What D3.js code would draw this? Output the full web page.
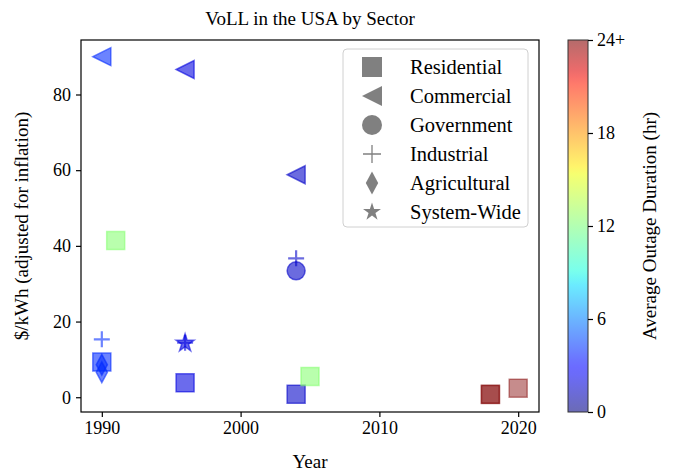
<!DOCTYPE html>
<html>
<head>
<meta charset="utf-8">
<script src="https://cdn.jsdelivr.net/npm/d3@7"></script>
<style>
  html, body { margin: 0; padding: 0; background: #fff; }
  svg text { font-family: "Liberation Serif", "DejaVu Serif", serif; fill: #000; }
</style>
</head>
<body>
<svg id="chart" width="677" height="472"></svg>
<script>
// Value of Lost Load by sector: [year, $/kWh, average outage duration (hr)]
const residential  = [[1990, 9.3, 4], [1991, 41.4, 12.3], [1996, 3.8, 2], [2004, 0.8, 1.5], [2005, 5.5, 12.3], [2018, 0.8, 24], [2018, 0.7, 24], [2020, 2.4, 24]];
const commercial   = [[1990, 90.0, 4], [1996, 86.6, 2], [2004, 58.8, 1.5]];
const government   = [[2004, 33.4, 1.5]];
const industrial   = [[1990, 15.3, 4], [1996, 14.4, 2], [2004, 36.7, 1.5]];
const agricultural = [[1990, 8.6, 4], [1990, 6.6, 4]];
const systemWide   = [[1996, 14.3, 2]];

const sectorNames = ["Residential", "Commercial", "Government", "Industrial", "Agricultural", "System-Wide"];
const sectorMarkers = ["square", "triangleLeft", "circle", "plus", "diamond", "star"];
const sectorData = [residential, commercial, government, industrial, agricultural, systemWide];

const xTicks = [1990, 2000, 2010, 2020];
const yTicks = [0, 20, 40, 60, 80];
const cbTicks = [0, 6, 12, 18, 24];
const cbTickLabels = ["0", "6", "12", "18", "24+"];

const svg = d3.select("#chart");
const plot = { left: 81, right: 539, top: 40, bottom: 412 };

const x = d3.scaleLinear().domain([1988.5, 2021.5]).range([plot.left, plot.right]);
const y = d3.scaleLinear().domain([-3.9, 94.4]).range([plot.bottom, plot.top]);

// jet colour map
function jet(t) {
  t = Math.max(0, Math.min(1, t));
  const seg = (pts) => {
    for (let i = 0; i < pts.length - 1; i++) {
      const [a, va] = pts[i], [b, vb] = pts[i + 1];
      if (t >= a && t <= b) return va + (vb - va) * (t - a) / (b - a);
    }
    return pts[pts.length - 1][1];
  };
  const r = seg([[0, 0], [0.35, 0], [0.66, 1], [0.89, 1], [1, 0.5]]);
  const g = seg([[0, 0], [0.125, 0], [0.375, 1], [0.64, 1], [0.91, 0], [1, 0]]);
  const b = seg([[0, 0.5], [0.11, 1], [0.34, 1], [0.65, 0], [1, 0]]);
  return d3.rgb(r * 255, g * 255, b * 255).formatHex();
}
const color = d3.scaleSequential(jet).domain([0, 24]).clamp(true);
const alpha = 0.58;

// marker paths centred on the origin, r = half size
function markerPath(kind, r) {
  switch (kind) {
    case "square": return `M${-r},${-r}H${r}V${r}H${-r}Z`;
    case "triangleLeft": return `M${-r},0L${r},${-r}L${r},${r}Z`;
    case "circle": return `M${r},0A${r},${r} 0 1,1 ${-r},0A${r},${r} 0 1,1 ${r},0Z`;
    case "plus": return `M${-r},0H${r}M0,${-r}V${r}`;
    case "diamond": { const w = r * 0.62, h = r * 1.15; return `M0,${-h}L${w},0L0,${h}L${-w},0Z`; }
    case "star": {
      const pts = [];
      for (let i = 0; i < 10; i++) {
        const rr = i % 2 === 0 ? r * 1.05 : r * 1.05 * 0.381966;
        const a = -Math.PI / 2 + i * Math.PI / 5;
        pts.push([rr * Math.cos(a), rr * Math.sin(a)]);
      }
      return "M" + pts.map(p => p.join(",")).join("L") + "Z";
    }
  }
}

// Scatter marks
const r = 9;
sectorData.forEach((data, i) => {
  const kind = sectorMarkers[i];
  svg.append("g").selectAll("path").data(data).join("path")
    .attr("transform", d => `translate(${x(d[0])},${y(d[1])})`)
    .attr("d", markerPath(kind, kind === "plus" ? 8 : kind === "star" ? 9 : r))
    .attr("fill", kind === "plus" ? "none" : d => color(d[2]))
    .attr("fill-opacity", d => d[2] >= 24 ? 0.45 : alpha)
    .attr("stroke", d => color(d[2]))
    .attr("stroke-opacity", d => d[2] >= 24 ? 0.45 : alpha)
    .attr("stroke-width", kind === "plus" ? 2.2 : 1.5);
});

// Axes
const fontSize = 18;
const xAxis = svg.append("g").attr("transform", `translate(0,${plot.bottom})`)
  .call(d3.axisBottom(x).tickValues(xTicks).tickFormat(d3.format("d")).tickSize(5).tickPadding(4));
const yAxis = svg.append("g").attr("transform", `translate(${plot.left},0)`)
  .call(d3.axisLeft(y).tickValues(yTicks).tickSize(5).tickPadding(5));
[xAxis, yAxis].forEach(a => {
  a.select(".domain").remove();
  a.selectAll("text").style("font-size", fontSize + "px").style("font-family", "'Liberation Serif', serif");
  a.selectAll("line").attr("stroke", "#000").attr("stroke-width", 1.2);
});

// Plot frame
svg.append("rect")
  .attr("x", plot.left).attr("y", plot.top)
  .attr("width", plot.right - plot.left).attr("height", plot.bottom - plot.top)
  .attr("fill", "none").attr("stroke", "#000").attr("stroke-width", 1.2);

// Title and axis labels
svg.append("text").attr("x", (plot.left + plot.right) / 2).attr("y", 25)
  .attr("text-anchor", "middle").style("font-size", "19px").text("VoLL in the USA by Sector");
svg.append("text").attr("x", (plot.left + plot.right) / 2).attr("y", 468)
  .attr("text-anchor", "middle").style("font-size", "19px").text("Year");
svg.append("text")
  .attr("transform", `translate(28,${(plot.top + plot.bottom) / 2}) rotate(-90)`)
  .attr("text-anchor", "middle").style("font-size", "19px").text("$/kWh (adjusted for inflation)");

// Legend
const lg = svg.append("g").attr("transform", "translate(343,49)");
lg.append("rect").attr("width", 185).attr("height", 178).attr("rx", 4)
  .attr("fill", "#fff").attr("fill-opacity", 0.8).attr("stroke", "#d0d0d0").attr("stroke-width", 1);
sectorNames.forEach((name, i) => {
  const cy = 18 + i * 29;
  const kind = sectorMarkers[i];
  lg.append("path").attr("transform", `translate(29,${cy})`)
    .attr("d", markerPath(kind, kind === "plus" ? 9 : kind === "star" ? 9 : 10))
    .attr("fill", kind === "plus" ? "none" : "#808080")
    .attr("stroke", "#808080").attr("stroke-width", kind === "plus" ? 1.3 : 0);
  lg.append("text").attr("x", 67).attr("y", cy + 7).style("font-size", "20.5px").text(name);
});

// Colour bar
const cb = { left: 568, width: 20, top: 40, bottom: 412 };
const cy = d3.scaleLinear().domain([0, 24]).range([cb.bottom, cb.top]);
const defs = svg.append("defs");
const grad = defs.append("linearGradient").attr("id", "cbgrad")
  .attr("x1", 0).attr("y1", 1).attr("x2", 0).attr("y2", 0);
d3.range(0, 1.0001, 0.02).forEach(t => {
  grad.append("stop").attr("offset", t).attr("stop-color", jet(t)).attr("stop-opacity", alpha);
});
svg.append("rect").attr("x", cb.left).attr("y", cb.top)
  .attr("width", cb.width).attr("height", cb.bottom - cb.top)
  .attr("fill", "url(#cbgrad)").attr("stroke", "#333").attr("stroke-width", 1);
const cbAxis = svg.append("g").attr("transform", `translate(${cb.left + cb.width},0)`)
  .call(d3.axisRight(cy).tickValues(cbTicks).tickFormat((d, i) => cbTickLabels[i]).tickSize(5).tickPadding(4));
cbAxis.select(".domain").remove();
cbAxis.selectAll("text").style("font-size", fontSize + "px").style("font-family", "'Liberation Serif', serif");
cbAxis.selectAll("line").attr("stroke", "#000").attr("stroke-width", 1.2);
svg.append("text")
  .attr("transform", `translate(656,${(cb.top + cb.bottom) / 2}) rotate(-90)`)
  .attr("text-anchor", "middle").style("font-size", "19px").text("Average Outage Duration (hr)");
</script>
</body>
</html>
